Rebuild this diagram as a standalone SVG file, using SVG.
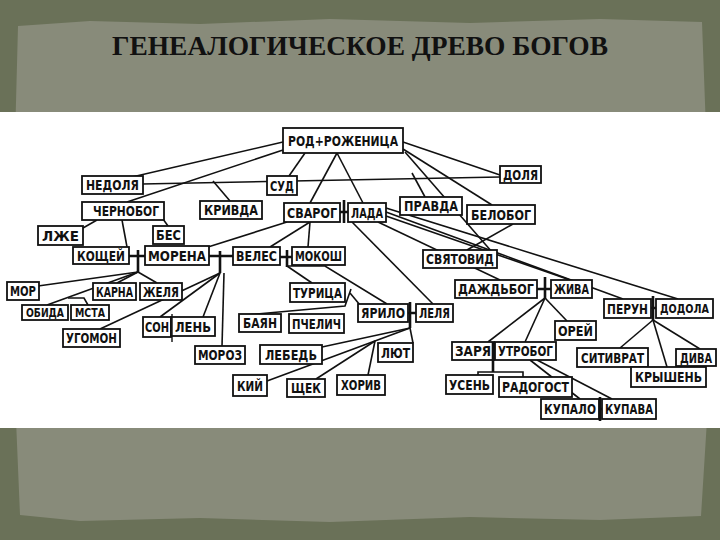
<svg xmlns="http://www.w3.org/2000/svg" width="720" height="540" viewBox="0 0 720 540">
<style>
.n rect{fill:#fff;stroke:#111;stroke-width:1.8}
.n text{font-family:"DejaVu Sans Condensed","DejaVu Sans",sans-serif;font-weight:bold;font-size:14px;fill:#111;text-anchor:middle}
#connectors line,#connectors polyline{stroke:#111;stroke-width:1.6;fill:none}
.j{stroke:#111;stroke-width:2.6;fill:none}
.jt{stroke:#111;stroke-width:1.4;fill:none}
</style>
<rect width="720" height="540" fill="#6a7158"/>
<path d="M18,26 L90,21 L200,24 L330,19 L470,23 L600,19 L702,22 L706,130 L703,280 L707,420 L701,516 L600,520 L470,517 L330,522 L200,518 L80,521 L20,515 L16,420 L19,260 L15,140 Z" fill="#888b7a"/>
<text x="360" y="55" font-family="Liberation Serif,serif" font-size="27" font-weight="bold" fill="#111" text-anchor="middle" textLength="496" lengthAdjust="spacingAndGlyphs">ГЕНЕАЛОГИЧЕСКОЕ ДРЕВО БОГОВ</text>
<rect x="0" y="112" width="720" height="316" fill="#ffffff"/>

<g id="connectors">
<line x1="283" y1="142" x2="132" y2="177"/>
<line x1="283" y1="150" x2="127" y2="202"/>
<line x1="305" y1="153" x2="289" y2="176"/>
<line x1="337" y1="153" x2="310" y2="203"/>
<line x1="337" y1="153" x2="363" y2="203"/>
<line x1="403" y1="142" x2="500" y2="175"/>
<line x1="403" y1="149" x2="492" y2="205"/>
<line x1="405" y1="152" x2="492" y2="252"/>
<line x1="142" y1="184" x2="500" y2="177"/>
<line x1="213" y1="181" x2="230" y2="201"/>
<line x1="412" y1="173" x2="425" y2="197"/>
<line x1="97" y1="220" x2="83" y2="228"/>
<line x1="163" y1="219" x2="168" y2="226"/>
<line x1="122" y1="220" x2="127" y2="247"/>
<line x1="287" y1="222" x2="208" y2="247"/>
<line x1="310" y1="222" x2="270" y2="247"/>
<line x1="310" y1="222" x2="308" y2="247"/>
<line x1="352" y1="222" x2="433" y2="304"/>
<line x1="378" y1="222" x2="500" y2="280"/>
<line x1="386" y1="208" x2="678" y2="299"/>
<line x1="386" y1="212" x2="623" y2="299"/>
<line x1="386" y1="216" x2="570" y2="280"/>
<line x1="513" y1="224" x2="467" y2="250"/>
<line x1="138" y1="272" x2="38" y2="286"/>
<line x1="138" y1="272" x2="47" y2="305"/>
<line x1="138" y1="272" x2="117" y2="283"/>
<line x1="138" y1="272" x2="157" y2="283"/>
<polyline points="68,298 84,298 88,305"/>
<line x1="220" y1="273" x2="100" y2="329"/>
<line x1="220" y1="273" x2="160" y2="317"/>
<line x1="220" y1="273" x2="203" y2="317"/>
<line x1="224" y1="273" x2="222" y2="346"/>
<line x1="287" y1="266" x2="312" y2="283"/>
<polyline points="287,266 325,266 387,304"/>
<polyline points="351,289 345,306 245,315"/>
<line x1="350" y1="293" x2="360" y2="305"/>
<line x1="410" y1="328" x2="322" y2="347"/>
<line x1="410" y1="328" x2="267" y2="381"/>
<line x1="375" y1="341" x2="316" y2="379"/>
<line x1="375" y1="341" x2="368" y2="375"/>
<line x1="410" y1="328" x2="413" y2="343"/>
<line x1="545" y1="298" x2="488" y2="342"/>
<line x1="545" y1="298" x2="525" y2="342"/>
<line x1="545" y1="298" x2="567" y2="321"/>
<polyline points="478,376 478,372 523,372 523,377"/>
<line x1="530" y1="360" x2="580" y2="399"/>
<line x1="537" y1="360" x2="612" y2="399"/>
<line x1="653" y1="320" x2="620" y2="348"/>
<line x1="653" y1="320" x2="667" y2="367"/>
<line x1="653" y1="320" x2="700" y2="349"/>
</g>

<g id="n-rod" class="n"><rect x="283" y="128" width="120" height="25"/><text x="343" y="145.5" textLength="110" lengthAdjust="spacingAndGlyphs">РОД+РОЖЕНИЦА</text></g>
<g id="n-dolya" class="n"><rect x="500" y="166" width="41" height="17"/><text x="520.5" y="179.5" textLength="35" lengthAdjust="spacingAndGlyphs">ДОЛЯ</text></g>
<g id="n-nedolya" class="n"><rect x="82" y="176" width="61" height="18"/><text x="112.5" y="190" textLength="53" lengthAdjust="spacingAndGlyphs">НЕДОЛЯ</text></g>
<g id="n-sud" class="n"><rect x="267" y="176" width="30" height="19"/><text x="282" y="190.5" textLength="24" lengthAdjust="spacingAndGlyphs">СУД</text></g>
<g id="n-chernobog" class="n"><rect x="82" y="202" width="82" height="18"/><text x="126" y="216" textLength="66" lengthAdjust="spacingAndGlyphs">ЧЕРНОБОГ</text></g>
<g id="n-krivda" class="n"><rect x="200" y="201" width="62" height="18"/><text x="231" y="215" textLength="54" lengthAdjust="spacingAndGlyphs">КРИВДА</text></g>
<g id="n-svarog" class="n"><rect x="284" y="203" width="56" height="19"/><text x="312" y="217.5" textLength="50" lengthAdjust="spacingAndGlyphs">СВАРОГ</text></g>
<g id="n-lada" class="n"><rect x="348" y="203" width="38" height="19"/><text x="367" y="217.5" textLength="32" lengthAdjust="spacingAndGlyphs">ЛАДА</text></g>
<g id="n-pravda" class="n"><rect x="400" y="197" width="62" height="18"/><text x="431" y="211" textLength="54" lengthAdjust="spacingAndGlyphs">ПРАВДА</text></g>
<g id="n-belobog" class="n"><rect x="467" y="205" width="68" height="19"/><text x="501" y="219.5" textLength="60" lengthAdjust="spacingAndGlyphs">БЕЛОБОГ</text></g>
<g id="n-lzhe" class="n"><rect x="38" y="226" width="45" height="19"/><text x="60.5" y="240.5" textLength="37" lengthAdjust="spacingAndGlyphs">ЛЖЕ</text></g>
<g id="n-bes" class="n"><rect x="153" y="226" width="31" height="18"/><text x="168.5" y="240" textLength="25" lengthAdjust="spacingAndGlyphs">БЕС</text></g>
<g id="n-koschei" class="n"><rect x="73" y="247" width="56" height="17"/><text x="101" y="260.5" textLength="48" lengthAdjust="spacingAndGlyphs">КОЩЕЙ</text></g>
<g id="n-morena" class="n"><rect x="145" y="246" width="64" height="19"/><text x="177" y="260.5" textLength="58" lengthAdjust="spacingAndGlyphs">МОРЕНА</text></g>
<g id="n-veles" class="n"><rect x="233" y="247" width="47" height="18"/><text x="256.5" y="261" textLength="41" lengthAdjust="spacingAndGlyphs">ВЕЛЕС</text></g>
<g id="n-mokosh" class="n"><rect x="292" y="247" width="53" height="18"/><text x="318.5" y="261" textLength="47" lengthAdjust="spacingAndGlyphs">МОКОШ</text></g>
<g id="n-svyatovid" class="n"><rect x="423" y="250" width="74" height="18"/><text x="460" y="264" textLength="68" lengthAdjust="spacingAndGlyphs">СВЯТОВИД</text></g>
<g id="n-mor" class="n"><rect x="7" y="282" width="32" height="18"/><text x="23" y="296" textLength="26" lengthAdjust="spacingAndGlyphs">МОР</text></g>
<g id="n-karna" class="n"><rect x="93" y="283" width="43" height="17"/><text x="114.5" y="296.5" textLength="37" lengthAdjust="spacingAndGlyphs">КАРНА</text></g>
<g id="n-zhelya" class="n"><rect x="140" y="283" width="42" height="17"/><text x="161" y="296.5" textLength="36" lengthAdjust="spacingAndGlyphs">ЖЕЛЯ</text></g>
<g id="n-turica" class="n"><rect x="290" y="283" width="55" height="19"/><text x="317.5" y="297.5" textLength="49" lengthAdjust="spacingAndGlyphs">ТУРИЦА</text></g>
<g id="n-dazhdbog" class="n"><rect x="455" y="280" width="82" height="18"/><text x="496" y="294" textLength="76" lengthAdjust="spacingAndGlyphs">ДАЖДЬБОГ</text></g>
<g id="n-zhiva" class="n"><rect x="551" y="280" width="41" height="18"/><text x="571.5" y="294" textLength="35" lengthAdjust="spacingAndGlyphs">ЖИВА</text></g>
<g id="n-obida" class="n"><rect x="22" y="305" width="46" height="15"/><text x="45" y="317" style="font-size:12px" textLength="38" lengthAdjust="spacingAndGlyphs">ОБИДА</text></g>
<g id="n-msta" class="n"><rect x="71" y="305" width="38" height="15"/><text x="90" y="317" style="font-size:12px" textLength="30" lengthAdjust="spacingAndGlyphs">МСТА</text></g>
<g id="n-perun" class="n"><rect x="604" y="299" width="47" height="19"/><text x="627.5" y="313.5" textLength="41" lengthAdjust="spacingAndGlyphs">ПЕРУН</text></g>
<g id="n-dodola" class="n"><rect x="656" y="299" width="57" height="19"/><text x="684.5" y="313" style="font-size:12.5px" textLength="49" lengthAdjust="spacingAndGlyphs">ДОДОЛА</text></g>
<g id="n-bayan" class="n"><rect x="239" y="314" width="42" height="18"/><text x="260" y="328" textLength="34" lengthAdjust="spacingAndGlyphs">БАЯН</text></g>
<g id="n-pchelich" class="n"><rect x="289" y="314" width="55" height="19"/><text x="316.5" y="328.5" textLength="49" lengthAdjust="spacingAndGlyphs">ПЧЕЛИЧ</text></g>
<g id="n-yarilo" class="n"><rect x="358" y="304" width="50" height="18"/><text x="383" y="318" textLength="44" lengthAdjust="spacingAndGlyphs">ЯРИЛО</text></g>
<g id="n-lelya" class="n"><rect x="416" y="304" width="37" height="18"/><text x="434.5" y="318" textLength="31" lengthAdjust="spacingAndGlyphs">ЛЕЛЯ</text></g>
<g id="n-orei" class="n"><rect x="555" y="321" width="41" height="19"/><text x="575.5" y="335.5" textLength="35" lengthAdjust="spacingAndGlyphs">ОРЕЙ</text></g>
<g id="n-son" class="n"><rect x="143" y="317" width="28" height="20"/><text x="157" y="332" textLength="24" lengthAdjust="spacingAndGlyphs">СОН</text></g>
<g id="n-len" class="n"><rect x="171" y="317" width="44" height="19"/><text x="193" y="331.5" textLength="36" lengthAdjust="spacingAndGlyphs">ЛЕНЬ</text></g>
<g id="n-ugomon" class="n"><rect x="63" y="329" width="57" height="18"/><text x="91.5" y="343" textLength="51" lengthAdjust="spacingAndGlyphs">УГОМОН</text></g>
<g id="n-zarya" class="n"><rect x="452" y="342" width="42" height="18"/><text x="473" y="356" textLength="36" lengthAdjust="spacingAndGlyphs">ЗАРЯ</text></g>
<g id="n-utrobog" class="n"><rect x="495" y="342" width="61" height="18"/><text x="525.5" y="356" textLength="55" lengthAdjust="spacingAndGlyphs">УТРОБОГ</text></g>
<g id="n-moroz" class="n"><rect x="195" y="346" width="50" height="18"/><text x="220" y="360" textLength="44" lengthAdjust="spacingAndGlyphs">МОРОЗ</text></g>
<g id="n-lebed" class="n"><rect x="260" y="345" width="62" height="19"/><text x="291" y="359.5" textLength="52" lengthAdjust="spacingAndGlyphs">ЛЕБЕДЬ</text></g>
<g id="n-lyut" class="n"><rect x="378" y="343" width="35" height="19"/><text x="395.5" y="357.5" textLength="29" lengthAdjust="spacingAndGlyphs">ЛЮТ</text></g>
<g id="n-sitivrat" class="n"><rect x="577" y="348" width="71" height="19"/><text x="612.5" y="362.5" textLength="63" lengthAdjust="spacingAndGlyphs">СИТИВРАТ</text></g>
<g id="n-diva" class="n"><rect x="676" y="349" width="40" height="17"/><text x="696" y="362.5" textLength="32" lengthAdjust="spacingAndGlyphs">ДИВА</text></g>
<g id="n-kryshen" class="n"><rect x="631" y="367" width="75" height="20"/><text x="668.5" y="382" textLength="67" lengthAdjust="spacingAndGlyphs">КРЫШЕНЬ</text></g>
<g id="n-kiy" class="n"><rect x="233" y="375" width="34" height="21"/><text x="250" y="390.5" textLength="26" lengthAdjust="spacingAndGlyphs">КИЙ</text></g>
<g id="n-schek" class="n"><rect x="287" y="379" width="38" height="18"/><text x="306" y="393" textLength="30" lengthAdjust="spacingAndGlyphs">ЩЕК</text></g>
<g id="n-horiv" class="n"><rect x="337" y="375" width="48" height="20"/><text x="361" y="390" textLength="40" lengthAdjust="spacingAndGlyphs">ХОРИВ</text></g>
<g id="n-usen" class="n"><rect x="446" y="375" width="47" height="19"/><text x="469.5" y="389.5" textLength="41" lengthAdjust="spacingAndGlyphs">УСЕНЬ</text></g>
<g id="n-radogost" class="n"><rect x="499" y="377" width="73" height="20"/><text x="535.5" y="392" textLength="67" lengthAdjust="spacingAndGlyphs">РАДОГОСТ</text></g>
<g id="n-kupalo" class="n"><rect x="541" y="399" width="58" height="20"/><text x="570" y="414" textLength="52" lengthAdjust="spacingAndGlyphs">КУПАЛО</text></g>
<g id="n-kupava" class="n"><rect x="602" y="399" width="54" height="20"/><text x="629" y="414" textLength="48" lengthAdjust="spacingAndGlyphs">КУПАВА</text></g>

<g id="junctions">
<path class="j" d="M344,200 V223 M340,212 H348"/>
<path class="j" d="M138,250 V272 M129,256 H145"/>
<path class="j" d="M220,251 V273 M209,256 H233"/>
<path class="j" d="M287,250 V267 M280,257 H292"/>
<path class="j" d="M545,277 V299 M537,289 H551"/>
<path class="j" d="M653,296 V321 M651,308 H656"/>
<path class="j" d="M410,302 V328 M408,313 H416"/>
<path class="j" d="M493,342 V372 M494,351 H495"/>
<path class="j" d="M600,397 V421 M599,409 H602"/>
<path class="jt" d="M172,314 V342"/>
</g>
</svg>
